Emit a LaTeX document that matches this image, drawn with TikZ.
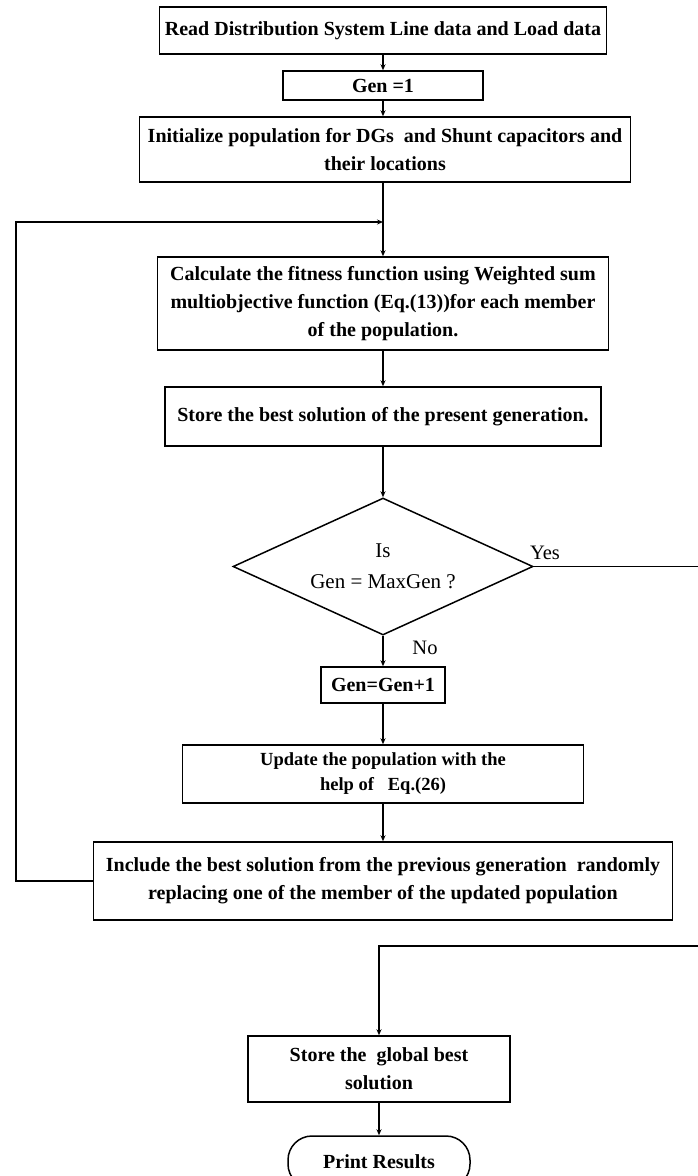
\documentclass[tikz,border=0pt]{standalone}
\usepackage{fontspec}
\setmainfont{Liberation Serif}
\usetikzlibrary{shapes.geometric,arrows.meta}

\begin{document}
\begin{tikzpicture}[x=1pt, y=-1pt, >={Stealth[length=6pt,width=5pt]}, line width=1.2pt]

        % Define custom styles for nodes (only!)
        \tikzset{
          procbox/.style={rectangle, draw, line width=1.5pt, inner sep=0pt, align=center,
            font=\fontsize{20}{28}\selectfont\bfseries},
          decbox/.style={diamond, aspect=2.2, draw, line width=1.5pt, inner sep=0pt, align=center,
            font=\fontsize{21}{31}\selectfont},
          termbox/.style={rectangle, rounded corners=24pt, draw, line width=1.5pt, inner sep=0pt,
            font=\fontsize{20}{28}\selectfont\bfseries},
          lbl/.style={inner sep=0pt, font=\fontsize{20.5}{22}\selectfont}
        }

        \useasboundingbox (0,0) rectangle (697,1176);

        % Define nodes down the main column
        \node[procbox, minimum width=447pt, minimum height=47pt] (read) at (383,30.5)
          {Read Distribution System Line data and Load data};
        \node[procbox, minimum width=200pt, minimum height=29pt] (gen1) at (383,85.5) {Gen =1};
        \node[procbox, minimum width=491pt, minimum height=65pt] (init) at (385,149.5)
          {Initialize population for DGs~ and Shunt capacitors and\\their locations};
        \node[procbox, minimum width=451pt, minimum height=93pt] (calc) at (383,303.5)
          {Calculate the fitness function using Weighted sum\\multiobjective function (Eq.(13))for each member\\of the population.};
        \node[procbox, minimum width=436pt, minimum height=59pt] (store) at (383,416.5)
          {Store the best solution of the present generation.};
        \node[decbox, minimum width=300pt, minimum height=137pt] (dec) at (383,566.5)
          {Is\\Gen = MaxGen ?};
        \node[procbox, minimum width=124pt, minimum height=36pt] (genup) at (383,685) {Gen=Gen+1};
        \node[procbox, minimum width=401pt, minimum height=58pt,
              font=\fontsize{18.5}{25}\selectfont\bfseries] (update) at (383,774)
          {Update the population with the\\help of~~ Eq.(26)};
        \node[procbox, minimum width=579pt, minimum height=78pt] (include) at (383,881)
          {Include the best solution from the previous generation~ randomly\\replacing one of the member of the updated population};
        \node[procbox, minimum width=262pt, minimum height=66pt] (global) at (379,1069)
          {Store the~ global best\\solution};
        \node[termbox, minimum width=182pt, minimum height=52pt] (print) at (379,1162) {Print Results};

        % Branch labels
        \node[lbl] (yes) at (545,553) {Yes};
        \node[lbl] (no) at (425,648) {No};

        % Bend points of the loops
        \coordinate (join) at (383,222);
        \coordinate (loopleft) at (16,881);
        \coordinate (yesturn) at (705,566.5);
        \coordinate (yesdown) at (705,946);

        % Draw directed edges
        \draw[->] (read) -- (gen1);
        \draw[->] (gen1) -- (gen1 |- init.north);
        \draw[->] (init.south -| calc) -- (calc);
        \draw[->] (calc) -- (store);
        \draw[->] (store) -- (dec);
        \draw[->] (dec) -- (genup);
        \draw[->] (genup) -- (update);
        \draw[->] (update) -- (include);
        \draw[->] (include.west) -- (loopleft) |- (join);
        \draw[->] (dec.east) -- (yesturn) -- (yesdown) -| (global);
        \draw[->] (global) -- (print);

\end{tikzpicture}
\end{document}
